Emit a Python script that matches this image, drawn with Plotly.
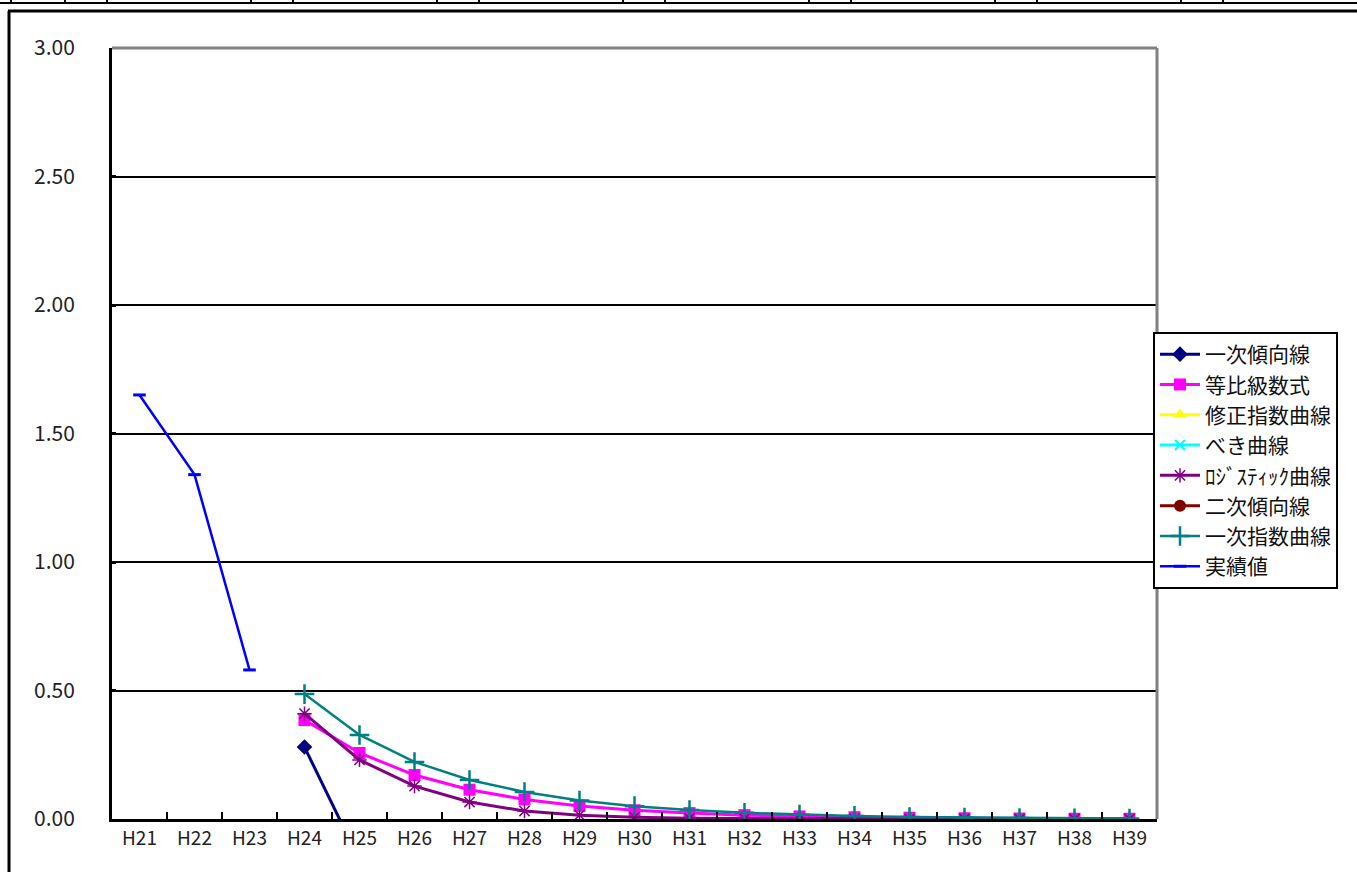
import plotly.graph_objects as go

# 年度カテゴリ
years = ["H21", "H22", "H23", "H24", "H25", "H26", "H27", "H28", "H29", "H30",
         "H31", "H32", "H33", "H34", "H35", "H36", "H37", "H38", "H39"]

# 実績値
actual = [1.65, 1.34, 0.58] + [None] * 16

# 推計値（H24〜H39）
pad = [None, None, None]
linear_trend = pad + [0.28, -0.16, -0.60, -1.04, -1.48, -1.92, -2.36, -2.80,
                      -3.24, -3.68, -4.12, -4.56, -5.00, -5.44, -5.88, -6.32]
geometric = pad + [0.385, 0.257, 0.171, 0.114, 0.076, 0.051, 0.034, 0.023,
                   0.015, 0.010, 0.007, 0.005, 0.003, 0.002, 0.001, 0.001]
modified_exp = [None] * 19
power_curve = [None] * 19
logistic = pad + [0.41, 0.23, 0.128, 0.066, 0.031, 0.015, 0.007, 0.003,
                  0.002, 0.001, 0.0, 0.0, 0.0, 0.0, 0.0, 0.0]
quadratic = [None] * 19
linear_exp = pad + [0.486, 0.327, 0.222, 0.152, 0.105, 0.072, 0.050, 0.035,
                    0.024, 0.017, 0.012, 0.008, 0.006, 0.004, 0.003, 0.002]

y_ticks = [0, 0.5, 1.0, 1.5, 2.0, 2.5, 3.0]

W, H = 1357, 872
L, R, T, B = 112, 1157, 48, 819


def px(x):
    return (x - L) / (R - L)


def py(y):
    return (B - y) / (B - T)


series = [
    ("一次傾向線", linear_trend, "#000080", "diamond", 12, 3, 0),
    ("等比級数式", geometric, "#FF00FF", "square", 12, 3, 0),
    ("修正指数曲線", modified_exp, "#FFFF00", "triangle-up", 12, 3, 0),
    ("べき曲線", power_curve, "#00FFFF", "x-thin-open", 10, 3, 2),
    ("ﾛｼﾞｽﾃｨｯｸ曲線", logistic, "#800080", "asterisk-open", 12, 3, 1.5),
    ("二次傾向線", quadratic, "#800000", "circle", 12, 3, 0),
    ("一次指数曲線", linear_exp, "#008080", "cross-thin-open", 14, 2.5, 2.5),
    ("実績値", actual, "#0000FF", "line-ew-open", 9, 2.5, 3),
]

fig = go.Figure()
for i, (name, vals, color, sym, size, lw, mlw) in enumerate(series):
    marker = dict(symbol=sym, size=size, color=color)
    if mlw:
        marker["line"] = dict(color=color, width=mlw)
    fig.add_trace(go.Scatter(
        x=years, y=vals, name=name, mode="lines+markers",
        line=dict(color=color, width=lw), marker=marker,
        legendgroup=f"g{i}", cliponaxis=True,
    ))

shapes = []
# プロットエリアの上辺・右辺（灰色）
shapes.append(dict(type="line", xref="paper", yref="paper", x0=0, x1=1, y0=1, y1=1,
                   line=dict(color="#808080", width=3)))
shapes.append(dict(type="line", xref="paper", yref="paper", x0=1, x1=1, y0=0, y1=1,
                   line=dict(color="#808080", width=3)))
# 外枠
shapes.append(dict(type="line", xref="paper", yref="paper", x0=px(8), x1=px(W + 5),
                   y0=py(11), y1=py(11), line=dict(color="black", width=3)))
shapes.append(dict(type="line", xref="paper", yref="paper", x0=px(9), x1=px(9),
                   y0=py(11), y1=py(H + 5), line=dict(color="black", width=3)))
# 上部のセル罫線
shapes.append(dict(type="line", xref="paper", yref="paper", x0=px(0), x1=px(W + 5),
                   y0=py(3), y1=py(3), line=dict(color="black", width=2)))
for xv in [11, 65, 107, 251, 293, 437, 479, 623, 665, 809, 851, 995, 1037, 1181, 1223]:
    shapes.append(dict(type="line", xref="paper", yref="paper", x0=px(xv), x1=px(xv),
                       y0=py(-2), y1=py(3), line=dict(color="black", width=2)))

fig.update_layout(
    width=W, height=H,
    margin=dict(l=L, r=W - R, t=T, b=H - B, autoexpand=False),
    paper_bgcolor="white", plot_bgcolor="white",
    font=dict(family="Noto Sans CJK JP", size=17, color="black"),
    shapes=shapes,
    showlegend=True,
    legend=dict(
        x=px(1153), xanchor="left", y=py(332), yanchor="top",
        bordercolor="black", borderwidth=2, bgcolor="white",
        font=dict(family="Noto Sans CJK JP", size=21, color="#111111"),
        traceorder="grouped", tracegroupgap=0, itemwidth=40,
    ),
    xaxis=dict(
        type="category", range=[-0.5, 18.5], showgrid=False,
        showline=True, linecolor="black", linewidth=3,
        ticks="inside", tickson="boundaries", ticklen=7, tickwidth=2, tickcolor="black",
        tickfont=dict(family="Noto Sans CJK JP", size=19, color="#222222"),
        fixedrange=True,
    ),
    yaxis=dict(
        range=[0, 3], tickvals=y_ticks, tickformat=".2f",
        showgrid=True, gridcolor="black", gridwidth=2,
        showline=True, linecolor="black", linewidth=3,
        ticks="inside", ticklen=4, tickwidth=3, tickcolor="black",
        ticklabelstandoff=30,
        tickfont=dict(family="Noto Sans CJK JP", size=21, color="#222222"),
        zeroline=False, fixedrange=True,
    ),
)

fig.write_html("out.html")
